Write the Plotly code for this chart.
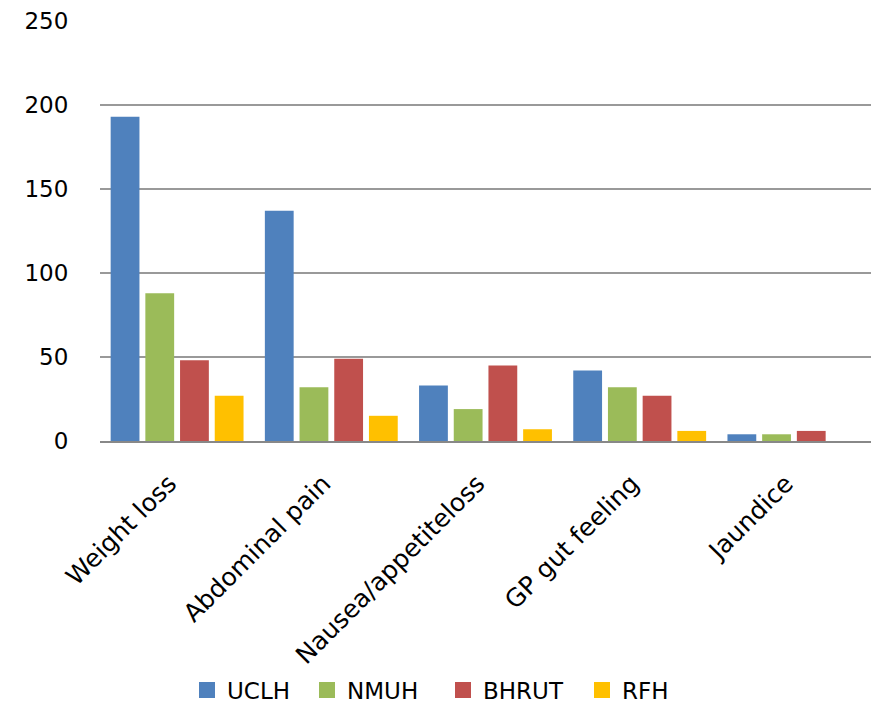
import plotly.graph_objects as go

categories = ["Weight loss", "Abdominal pain", "Nausea/appetiteloss", "GP gut feeling", "Jaundice"]
uclh = [193, 137, 33, 42, 4]
nmuh = [88, 32, 19, 32, 4]
bhrut = [48, 49, 45, 27, 6]
rfh = [27, 15, 7, 6, 0]

series = [
    ("UCLH", uclh, "#4F81BD"),
    ("NMUH", nmuh, "#9BBB59"),
    ("BHRUT", bhrut, "#C0504D"),
    ("RFH", rfh, "#FFC000"),
]

# left edge (px) of each legend entry along the bottom row
legend_px = [187, 307, 443, 582]

font_family = "'DejaVu Sans', sans-serif"

fig = go.Figure()
for i, (name, vals, color) in enumerate(series):
    lg = "legend" if i == 0 else f"legend{i + 1}"
    fig.add_trace(go.Bar(x=categories, y=vals, name=name, marker_color=color,
                         marker_line_width=0, legendgroup=name, showlegend=False))
    # square swatch shown in the legend row
    fig.add_trace(go.Scatter(x=[None], y=[None], mode="markers", name=name,
                             legendgroup=name, legend=lg,
                             marker=dict(symbol="square", size=17, color=color,
                                         line=dict(width=0))))

legend_common = dict(orientation="h", xref="container", yref="container",
                     xanchor="left", yanchor="middle", y=1 - 690 / 705,
                     font=dict(size=23), bgcolor="rgba(0,0,0,0)", borderwidth=0)

fig.update_layout(
    width=871, height=705,
    margin=dict(l=100, r=0, t=21, b=264, autoexpand=False),
    paper_bgcolor="white", plot_bgcolor="white",
    barmode="group", bargap=0.1, bargroupgap=0.17,
    font=dict(family=font_family, size=23, color="black"),
    legend=dict(x=legend_px[0] / 871, **legend_common),
    legend2=dict(x=legend_px[1] / 871, **legend_common),
    legend3=dict(x=legend_px[2] / 871, **legend_common),
    legend4=dict(x=legend_px[3] / 871, **legend_common),
    showlegend=True,
)
fig.update_yaxes(range=[0, 250], dtick=50, showgrid=True, gridcolor="#999999", gridwidth=1.8,
                 zeroline=False, showline=False, ticks="outside", ticklen=26,
                 tickcolor="rgba(0,0,0,0)", tickfont=dict(size=23), automargin=False)
fig.update_xaxes(showline=True, linecolor="#888888", linewidth=2, tickangle=-45,
                 ticks="outside", ticklen=16, tickcolor="rgba(0,0,0,0)",
                 ticklabelshift=-8, tickfont=dict(size=25), automargin=False)

fig.write_html("out.html")
